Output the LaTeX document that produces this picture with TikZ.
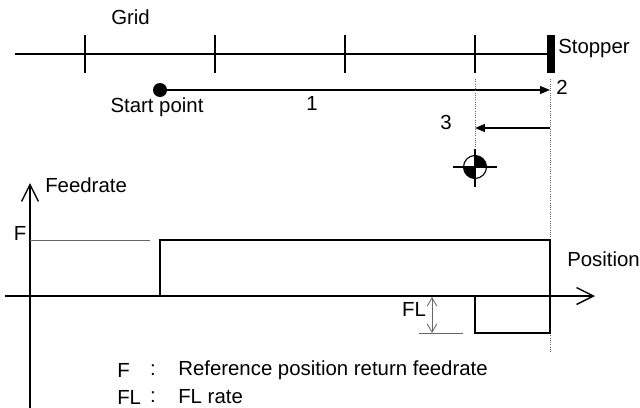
\documentclass[tikz,border=0pt]{standalone}
\usepackage{fontspec}
\setmainfont{Liberation Sans}
\usetikzlibrary{arrows.meta}

\begin{document}
\begin{tikzpicture}[x=0.025cm,y=-0.025cm,>={Triangle[length=7pt,width=5.5pt]},
  every node/.style={font=\fontsize{14.5}{19}\selectfont,inner sep=0pt},
  trace/.style={line width=1pt},
  axis/.style={line width=1pt,-{Straight Barb[length=12pt,width=12pt]}},
  guide/.style={densely dotted,line width=0.6pt,black!60},
  helper/.style={line width=0.6pt,black!60}]
\useasboundingbox (0,0) rectangle (640,408);
% grid and stopper
\coordinate (gridL) at (15,54);
\coordinate (gridR) at (550,54);
\draw[trace] (gridL) -- (gridR);
\foreach \x in {85,215,345,475} \draw[trace] (\x,35) -- (\x,73);
\draw[line width=5pt] (551,35) -- (551,73);
\node[anchor=west] (grid) at (111,17) {Grid};
\node[anchor=west] (stopper) at (558,48) {Stopper};
% motion 1, 2, 3
\node[circle,fill,minimum size=0.35cm] (start) at (160,90) {};
\coordinate (stop) at (550,90);
\draw[->,trace] (start) -- (stop);
\node (lab1) at (312,103) {1};
\node (startlab) at (157,107) {Start point};
\node (lab2) at (562,87) {2};
\coordinate (g3top) at (475,79);
\coordinate (g3bot) at (475,149);
\coordinate (g2top) at (550,79);
\coordinate (g2bot) at (550,352);
\draw[guide] (g3top) -- (g3bot);
\draw[guide] (g2top) -- (g2bot);
\coordinate (back) at (550,128);
\coordinate (refpos) at (475,128);
\draw[->,trace] (back) -- (refpos);
\node (lab3) at (446,122) {3};
% reference position mark
\node[circle,draw,line width=0.8pt,minimum size=0.575cm] (target) at (475,167) {};
\begin{scope}
  \clip (475,167) rectangle (490,152);
  \fill (target.center) circle[radius=0.2875cm];
\end{scope}
\begin{scope}
  \clip (475,167) rectangle (460,182);
  \fill (target.center) circle[radius=0.2875cm];
\end{scope}
\draw[line width=0.8pt] (453,167) -- (497,167);
\draw[line width=0.8pt] (475,149) -- (475,187);
% feedrate diagram
\coordinate (yaxisB) at (30,408);
\coordinate (yaxisT) at (30,183);
\coordinate (xaxisL) at (5,296);
\coordinate (xaxisR) at (595,296);
\draw[axis] (yaxisB) -- (yaxisT);
\draw[axis] (xaxisL) -- (xaxisR);
\node[anchor=west] (feedlab) at (45,185) {Feedrate};
\node[anchor=west] (poslab) at (567,259) {Position};
\node (flab) at (20,233) {F};
\draw[helper] (30,240) -- (150,240);
\draw[trace] (160,296) |- (550,240) -- (550,296);
\draw[trace] (475,296) |- (550,333) -- (550,296);
\coordinate (flT) at (432,297);
\coordinate (flB) at (432,333);
\draw[helper,{Straight Barb[length=6pt,width=7pt]}-{Straight Barb[length=6pt,width=7pt]}] (flT) -- (flB);
\draw[helper] (419,333) -- (463,333);
\node (fllab) at (414,309) {FL};
% legend
\node[anchor=west] (legF) at (117,370) {F};
\node (legFc) at (153,370) {:};
\node[anchor=west] (legFt) at (178,370) {Reference position return feedrate};
\node[anchor=west] (legFL) at (117,397) {FL};
\node (legFLc) at (153,397) {:};
\node[anchor=west] (legFLt) at (178,397) {FL rate};
\end{tikzpicture}
\end{document}
